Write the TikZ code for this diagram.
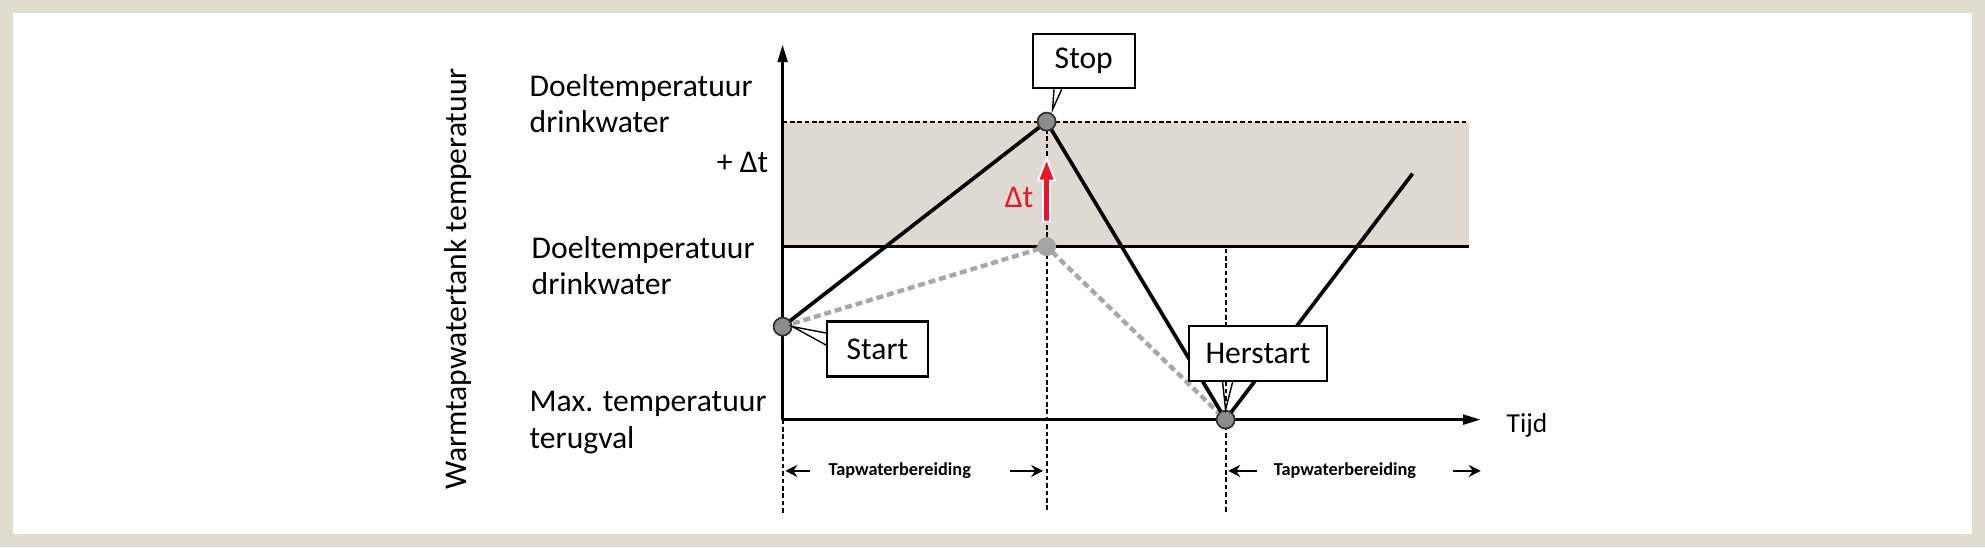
\documentclass[tikz,border=0pt]{standalone}
\usepackage{fontspec}
\setmainfont{Carlito}
\usetikzlibrary{arrows.meta}
\usetikzlibrary{calc}

\definecolor{kader}{RGB}{226,219,208}
\definecolor{band}{RGB}{224,217,209}
\definecolor{puntgrijs}{RGB}{140,140,140}
\definecolor{lichtgrijs}{RGB}{165,165,165}
\definecolor{streepgrijs}{RGB}{168,168,168}
\definecolor{dtrood}{RGB}{232,22,40}

\tikzset{
  as/.style={line width=0.75pt, -{Triangle[length=5pt,width=2.8pt]}},
  lijn/.style={line width=1.05pt, line join=round},
  stippel/.style={line width=0.6pt, dash pattern=on 1.3pt off 0.8pt},
  grijslijn/.style={streepgrijs, line width=1.25pt, dash pattern=on 2pt off 1.1pt},
  punt/.style={circle, minimum size=0.18cm, inner sep=0pt, fill=puntgrijs, draw=black!80, line width=0.5pt},
  hulppunt/.style={circle, minimum size=0.19cm, inner sep=0pt, fill=lichtgrijs},
  tekst/.style={font=\fontsize{9pt}{10.4pt}\selectfont, align=left, inner sep=0pt},
  melding/.style={draw, fill=white, line width=0.6pt, inner sep=0pt, font=\fontsize{9pt}{10.4pt}\selectfont, minimum height=0.55cm},
  staart/.style={line width=0.4pt},
  fase/.style={font=\bfseries\fontsize{5.2pt}{6pt}\selectfont, inner sep=0pt},
  fasepijl/.style={line width=0.8pt, -{Stealth[length=3.4pt,width=3.4pt]}},
}

\begin{document}
\begin{tikzpicture}
    \useasboundingbox (-7.826,-1.274) rectangle (12.024,4.196);
    \draw[kader, line width=3.7pt] (-7.761,-1.209) rectangle (11.959,4.131);

    % band tussen de twee doeltemperaturen
    \fill[band] (0,1.73) rectangle (6.86,2.98);
    \draw[stippel] (0,2.98) -- (6.86,2.98);
    \draw[line width=0.75pt] (0,1.73) -- (6.86,1.73);

    \coordinate (pStart) at (0,0.93);
    \coordinate (pStop) at (2.64,2.98);
    \coordinate (pMid) at (2.64,1.73);
    \coordinate (pHer) at (4.43,0);
    \coordinate (pEind) at (6.30,2.46);

    \draw[stippel] (0,0) -- (0,-0.93);
    \draw[stippel] (pStop) -- (2.64,-0.93);
    \draw[stippel] (4.43,1.71) -- (4.43,-0.93);

    \draw[as] (0,0) -- (0,3.75);
    \draw[as] (0,0) -- (6.98,0);

    \draw[grijslijn] (pStart) -- (pMid) -- (pHer);
    \draw[lijn] (pStart) -- (pStop) -- (pHer) -- (pEind);

    % rode pijl
    \coordinate (dtVoet) at (2.64,1.98);
    \filldraw[fill=dtrood, draw=white, line width=0.5pt] (dtVoet) ++(-0.035,0) -- ++(0,0.41) -- ++(-0.05,0)
        -- ++(0.085,0.22) -- ++(0.085,-0.22) -- ++(-0.05,0) -- ++(0,-0.41) -- cycle;
    \node[tekst, text=dtrood] (dt) at (2.364,2.226) {Δt};

    \node[punt] (start) at (pStart) {};
    \node[punt] (stop) at (pStop) {};
    \node[hulppunt] (mid) at (pMid) {};
    \node[punt] (herstart) at (pHer) {};

    \node[melding, minimum width=1.007cm] (startbox) at (0.948,0.706) {Start};
    \node[melding, minimum width=1.024cm, minimum height=0.544cm] (stopbox) at (3.012,3.586) {Stop};
    \node[melding, minimum width=1.384cm] (herstartbox) at (4.754,0.661) {Herstart};

    \draw[staart] ([xshift=-0.298cm]stopbox.south) -- ($(pStop)+(0.06,0.12)$) -- ([xshift=-0.221cm]stopbox.south);
    \draw[staart] ([yshift=0.16cm]startbox.west) -- (start.east) -- ([yshift=0.04cm]startbox.west);
    \draw[staart] ([xshift=-0.354cm]herstartbox.south) -- (herstart.north) -- ([xshift=-0.254cm]herstartbox.south);

    % teksten links
    \node[tekst, anchor=west] (doel) at (-2.536,3.158) {Doeltemperatuur\\drinkwater};
    \node[tekst, anchor=east] (plusdt) at (-0.136,2.576) {+ Δt};
    \node[tekst, anchor=west] (doelbasis) at (-2.516,1.538) {Doeltemperatuur\\drinkwater};
    \node[tekst, anchor=west] (terugval) at (-2.536,-0.032) {Max. temperatuur\\terugval};
    \node[tekst, rotate=90] (yas) at (-3.246,1.406) {Warmtapwatertank temperatuur};
    \node[tekst, anchor=west, font=\fontsize{7.8pt}{9pt}\selectfont] (tijd) at (7.234,-0.06) {Tijd};

    % fasen
    \node[fase] (fase1) at (1.172,-0.513) {Tapwaterbereiding};
    \node[fase] (fase2) at (5.624,-0.513) {Tapwaterbereiding};
    \draw[fasepijl] ([xshift=-0.18cm]fase1.west) -- ++(-0.246,0);
    \draw[fasepijl] ([xshift=0.38cm]fase1.east) -- ++(0.335,0);
    \draw[fasepijl] ([xshift=-0.16cm]fase2.west) -- ++(-0.29,0);
    \draw[fasepijl] ([xshift=0.36cm]fase2.east) -- ++(0.28,0);
\end{tikzpicture}
\end{document}
